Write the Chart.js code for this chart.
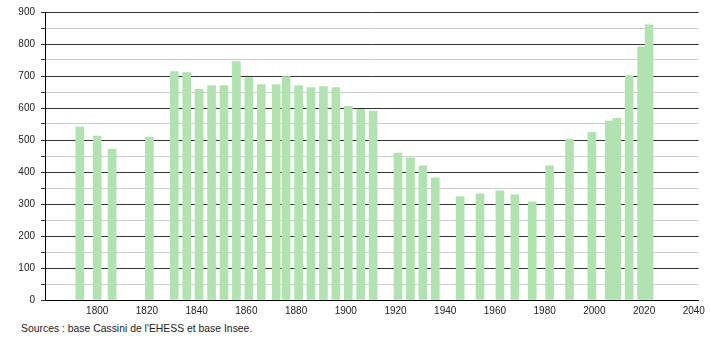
<!DOCTYPE html>
<html>
<head>
<meta charset="utf-8">
<script src="https://cdn.jsdelivr.net/npm/chart.js@4/dist/chart.umd.min.js"></script>
<style>
  html, body { margin: 0; padding: 0; background: #fff; }
  #wrap { position: relative; width: 710px; height: 340px; }
  #source {
    position: absolute; left: 21px; top: 323px;
    font-family: "Liberation Sans", Arial, sans-serif; font-size: 10.4px; color: #222;
  }
</style>
</head>
<body>
<div id="wrap">
  <canvas id="chart" width="710" height="320"></canvas>
  <div id="source">Sources : base Cassini de l'EHESS et base Insee.</div>
</div>
<script>
// années de recensement et population
const years = [1793, 1800, 1806, 1821, 1831, 1836, 1841, 1846, 1851, 1856,
  1861, 1866, 1872, 1876, 1881, 1886, 1891, 1896, 1901, 1906,
  1911, 1921, 1926, 1931, 1936, 1946, 1954, 1962, 1968, 1975,
  1982, 1990, 1999, 2006, 2009, 2014, 2019, 2022];
const population = [540, 512, 472, 509, 714, 711, 658, 670, 670, 745,
  695, 673, 673, 698, 670, 664, 667, 664, 605, 596,
  590, 459, 444, 419, 382, 323, 332, 341, 329, 307,
  419, 503, 524, 559, 568, 701, 791, 860];
const xTicks = [1800, 1820, 1840, 1860, 1880, 1900, 1920, 1940, 1960, 1980, 2000, 2020, 2040];

const points = years.map((y, i) => ({ x: y, y: population[i] }));

new Chart(document.getElementById('chart'), {
  type: 'bar',
  data: {
    datasets: [{
      data: points,
      backgroundColor: '#b0e3b0',
      borderWidth: 0,
      barThickness: 8
    }]
  },
  options: {
    responsive: false,
    animation: false,
    layout: { padding: { top: 10, right: 10, left: 0, bottom: 0 } },
    plugins: { legend: { display: false }, tooltip: { enabled: false } },
    scales: {
      x: {
        type: 'linear',
        offset: false,
        min: 1779,
        max: 2042,
        afterBuildTicks: scale => { scale.ticks = xTicks.map(v => ({ value: v })); },
        afterFit: scale => { scale.height = 20; },
        grid: { display: false, drawTicks: false, offset: false },
        border: { display: true, color: '#000', width: 1 },
        ticks: {
          color: '#222',
          font: { family: 'Liberation Sans', size: 10 },
          maxRotation: 0,
          padding: 5,
          callback: v => String(v)
        }
      },
      y: {
        min: 0,
        max: 900,
        afterFit: scale => { scale.width = 45; },
        grid: {
          color: ctx => (ctx.tick && ctx.tick.value % 100 === 0) ? '#333' : '#cccccc',
          tickColor: '#333',
          tickLength: 4,
          lineWidth: 1
        },
        border: { display: true, color: '#000', width: 1 },
        ticks: {
          stepSize: 50,
          color: '#222',
          font: { family: 'Liberation Sans', size: 10 },
          padding: 6,
          callback: v => (v % 100 === 0 ? v : '')
        }
      }
    }
  }
});
</script>
</body>
</html>
